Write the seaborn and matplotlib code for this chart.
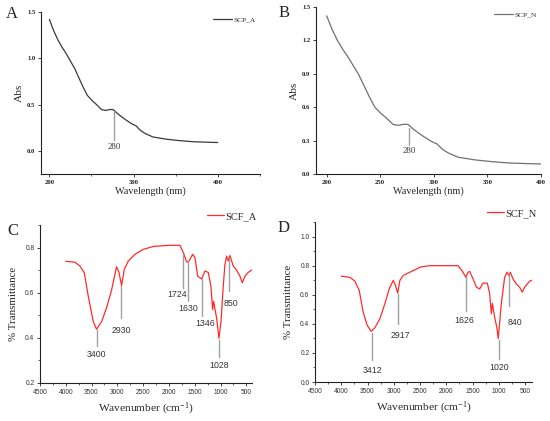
import numpy as np
import matplotlib
matplotlib.use('Agg')
import matplotlib.pyplot as plt
import seaborn as sns
from matplotlib.ticker import MultipleLocator, FormatStrFormatter

sns.set_style('ticks')
plt.rcParams['font.family'] = ['Liberation Serif', 'DejaVu Serif']
plt.rcParams['mathtext.default'] = 'regular'

# UV spectra (A, B share the same curve)
wavelength = [200, 205, 210, 215, 220, 225, 230, 235, 240, 245, 250, 256, 262, 267,
              272, 276, 280, 286, 292, 298, 303, 308, 314, 323, 339, 354, 370, 385, 400]
abs_values = [1.42, 1.30, 1.20, 1.12, 1.05, 0.97, 0.89, 0.79, 0.69, 0.60, 0.55, 0.50,
              0.445, 0.437, 0.447, 0.445, 0.41, 0.366, 0.327, 0.291, 0.27, 0.222, 0.186,
              0.15, 0.126, 0.111, 0.099, 0.094, 0.09]

# IR spectrum SCF_A
wn_a = [4000, 3822, 3725, 3641, 3564, 3467, 3403, 3306, 3210, 3110, 3016, 2969, 2918,
        2866, 2789, 2659, 2498, 2300, 2000, 1787, 1722, 1657, 1612, 1541, 1496, 1444,
        1366, 1302, 1238, 1186, 1153, 1134, 1109, 1076, 1031, 992, 947, 915, 882, 851,
        818, 754, 689, 624, 579, 527, 463, 398]
tr_a = [0.739, 0.735, 0.718, 0.688, 0.584, 0.472, 0.438, 0.472, 0.532, 0.614, 0.715,
        0.69, 0.632, 0.703, 0.74, 0.77, 0.792, 0.805, 0.81, 0.81, 0.778, 0.736, 0.74,
        0.77, 0.755, 0.673, 0.661, 0.696, 0.69, 0.628, 0.525, 0.562, 0.53, 0.487, 0.398,
        0.47, 0.63, 0.725, 0.762, 0.74, 0.765, 0.718, 0.70, 0.673, 0.644, 0.673, 0.69, 0.70]

# IR spectrum SCF_N
wn_n = [4000, 3835, 3740, 3658, 3582, 3506, 3430, 3360, 3265, 3170, 3088, 3012, 2974,
        2925, 2885, 2822, 2695, 2537, 2505, 2315, 1998, 1777, 1694, 1628, 1587, 1555,
        1492, 1428, 1365, 1302, 1219, 1175, 1143, 1124, 1080, 1036, 1012, 953, 890, 846,
        808, 782, 732, 668, 605, 554, 510, 415, 370]
tr_n = [0.728, 0.72, 0.693, 0.63, 0.48, 0.39, 0.348, 0.373, 0.435, 0.538, 0.64, 0.698,
        0.67, 0.611, 0.698, 0.732, 0.755, 0.782, 0.79, 0.80, 0.80, 0.80, 0.762, 0.72,
        0.755, 0.76, 0.71, 0.652, 0.64, 0.68, 0.68, 0.607, 0.47, 0.54, 0.446, 0.37, 0.298,
        0.54, 0.72, 0.755, 0.73, 0.755, 0.71, 0.675, 0.652, 0.618, 0.652, 0.693, 0.70]

# peak labels: (text, x, line top, line bottom, label x, label y)
peaks_a = [('3400', 3400, 0.435, 0.364, 3400, 0.324),
           ('2930', 2930, 0.629, 0.487, 2930, 0.432),
           ('1724', 1722, 0.77, 0.621, 1851, 0.592),
           ('1630', 1630, 0.74, 0.562, 1626, 0.528),
           ('1346', 1355, 0.662, 0.495, 1302, 0.462),
           ('1028', 1030, 0.391, 0.316, 1030, 0.276),
           ('850', 840, 0.748, 0.606, 798, 0.551)]
peaks_n = [('3412', 3412, 0.34, 0.153, 3412, 0.08),
           ('2917', 2917, 0.605, 0.40, 2880, 0.323),
           ('1626', 1626, 0.72, 0.487, 1650, 0.423),
           ('1020', 1005, 0.286, 0.16, 1005, 0.103),
           ('840', 814, 0.744, 0.526, 700, 0.41)]

fig = plt.figure(figsize=(5.5, 4.21), dpi=100)
axA = fig.add_axes([0.0745, 0.5867, 0.398, 0.3848])
axB = fig.add_axes([0.5745, 0.5867, 0.409, 0.3967])
axC = fig.add_axes([0.0727, 0.0903, 0.3855, 0.3753])
axD = fig.add_axes([0.5727, 0.0926, 0.3945, 0.38])

sans = ['Liberation Sans', 'DejaVu Sans']


def style_axes(ax, serif_ticks=True):
    sns.despine(ax=ax)
    for s in ['left', 'bottom']:
        ax.spines[s].set_linewidth(0.8)
        ax.spines[s].set_color('#222222')
    ax.tick_params(which='major', direction='out', length=2.5, width=0.6, pad=1.5,
                   labelsize=4.8, colors='#222222')
    ax.tick_params(which='minor', direction='out', length=1.5, width=0.5)
    for lab in ax.get_xticklabels() + ax.get_yticklabels():
        if serif_ticks:
            lab.set_fontweight('bold')
        else:
            lab.set_family(sans)
            lab.set_color('#333333')


# A and B: UV spectra
for ax, name, color, lim_x, lim_y, ystep, xstep, ann in [
        (axA, 'SCP_A', '#3a3a3a', (190, 450), (-0.25, 1.5), 0.5, 100, (0.43, 0.12, 0.04)),
        (axB, 'SCP_N', '#707070', (190, 400), (0, 1.5), 0.3, 50, (0.41, 0.26, 0.21))]:
    sns.lineplot(x=wavelength, y=abs_values, ax=ax, color=color, lw=0.9, label=name)
    ax.set_xlim(*lim_x)
    ax.set_ylim(*lim_y)
    ax.yaxis.set_major_locator(MultipleLocator(ystep))
    ax.yaxis.set_major_formatter(FormatStrFormatter('%.1f'))
    ax.xaxis.set_major_locator(MultipleLocator(xstep))
    if xstep == 100:
        ax.xaxis.set_minor_locator(MultipleLocator(50))
        ax.set_xticks([200, 300, 400])
    ax.set_xlabel('Wavelength (nm)', fontsize=7.3, labelpad=1.5)
    ax.set_ylabel('Abs', fontsize=8.2, labelpad=2)
    ax.plot([277, 277], ann[:2], color='#a0a0a0', lw=1.0)
    ax.text(277, ann[2], '280', ha='center', va='center', fontsize=6.3, color='#333333')
    ax.legend(loc='upper right', bbox_to_anchor=(1.0, 1.0), frameon=False, fontsize=5.3,
              handlelength=2.6, handletextpad=0.2, borderaxespad=0.2)
    style_axes(ax, serif_ticks=True)

# C and D: FTIR spectra
for ax, name, wn, tr, lim_x, lim_y, peaks in [
        (axC, 'SCF_A', wn_a, tr_a, (4500, 390), (0.2, 0.9), peaks_a),
        (axD, 'SCF_N', wn_n, tr_n, (4500, 370), (0.0, 1.1), peaks_n)]:
    sns.lineplot(x=wn, y=tr, ax=ax, color='#ff2a2a', lw=0.9, label=name, sort=False)
    ax.set_xlim(*lim_x)
    ax.set_ylim(*lim_y)
    ax.xaxis.set_major_locator(MultipleLocator(500))
    ax.xaxis.set_minor_locator(MultipleLocator(250))
    ax.yaxis.set_major_locator(MultipleLocator(0.2))
    ax.yaxis.set_minor_locator(MultipleLocator(0.1))
    ax.yaxis.set_major_formatter(FormatStrFormatter('%.1f'))
    ax.set_xlabel('Wavenumber (cm$^{-1}$)', fontsize=8.2, labelpad=4)
    ax.set_ylabel('% Transmittance', fontsize=7.8, labelpad=5)
    for txt, x, y1, y2, lx, ly in peaks:
        ax.plot([x, x], [y1, y2], color='#a0a0a0', lw=1.0)
        ax.text(lx, ly, txt, ha='center', va='center', fontsize=6.3, color='#333333',
                family=sans)
    ax.legend(loc='lower right', bbox_to_anchor=(1.04, 1.0), frameon=False, fontsize=7.5,
              handlelength=1.6, handletextpad=0.15, borderaxespad=0.0)
    style_axes(ax, serif_ticks=False)

for letter, x, y in [('A', 12, 14), ('B', 284, 13), ('C', 13, 231), ('D', 284, 228)]:
    fig.text(x / 550, 1 - y / 421, letter, ha='center', va='center', fontsize=12)

fig.savefig('out.png', dpi=100)
